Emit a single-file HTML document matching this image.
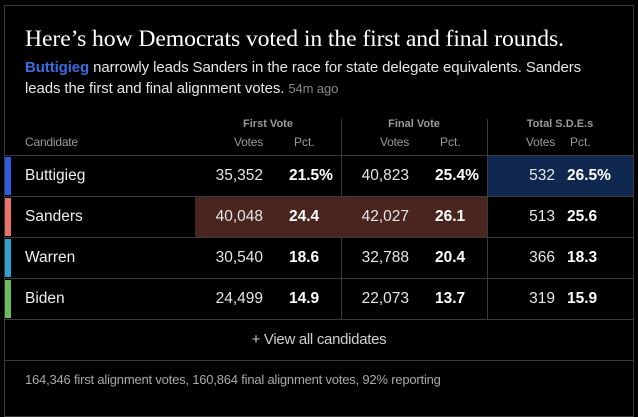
<!DOCTYPE html>
<html><head><meta charset="utf-8"><style>
body{margin:0;width:638px;height:406px;background:#000;overflow:hidden;font-family:"Liberation Sans",sans-serif;color:#e8e8e8;position:relative}
.box{position:absolute;left:4px;top:5px;width:628px;height:410px;border:1px solid #3a3a3a}
.abs{position:absolute;white-space:nowrap}
h1{position:absolute;left:25px;top:26px;margin:0;font:400 23.7px "Liberation Serif",serif;color:#fff;letter-spacing:-0.1px}
.sub{position:absolute;left:25px;top:57px;width:590px;font-size:15px;line-height:21px;color:#e6e6e6;letter-spacing:-0.1px}
.sub b{color:#3a6ee0}
.sub .ago{color:#8a8a8a;font-size:13px}
</style></head><body>
<div class="box"></div>
<h1>Here’s how Democrats voted in the first and final rounds.</h1>
<div class="sub"><b>Buttigieg</b> narrowly leads Sanders in the race for state delegate equivalents. Sanders<br>leads the first and final alignment votes. <span class="ago">54m ago</span></div>
<div id="tbl"></div>
<div class="abs" style="left:5px;top:319px;width:628px;height:41px;line-height:41px;text-align:center;font-size:15px;color:#cfcfcf;border-bottom:1px solid #3a3a3a;letter-spacing:-0.3px">+ View all candidates</div>
<div class="abs" style="left:25px;top:372px;font-size:13px;color:#a8a8a8;letter-spacing:-0.2px">164,346 first alignment votes, 160,864 final alignment votes, 92% reporting</div>
<script>
const candidates=["Buttigieg","Sanders","Warren","Biden"];
const firstVotes=["35,352","40,048","30,540","24,499"];
const firstPct=["21.5%","24.4","18.6","14.9"];
const finalVotes=["40,823","42,027","32,788","22,073"];
const finalPct=["25.4%","26.1","20.4","13.7"];
const sdeVotes=["532","513","366","319"];
const sdePct=["26.5%","25.6","18.3","15.9"];
const colors=["#2c5ce0","#ec716a","#2fa0cf","#6cbb5c"];
const t=document.getElementById('tbl');
function add(html,style){const d=document.createElement('div');d.className='abs';d.style.cssText=style;d.innerHTML=html;t.appendChild(d);return d;}
let e;
e=add('Candidate','left:25px;top:135px;font-size:12px;color:#9a9a9a;letter-spacing:-0.2px');


const groups=[["First Vote",195,341],["Final Vote",341,487],["Total S.D.E.s",487,633]];
groups.forEach((g,i)=>{
 e=add(g[0],`left:${g[1]}px;width:${g[2]-g[1]}px;text-align:center;top:118px;font-size:11px;font-weight:bold;color:#9a9a9a`);
 
 
});
const vr=[263,409,555],pl=[289,435,567];
vr.forEach((r,i)=>{
 e=add('Votes',`left:${r-60}px;width:60px;text-align:right;top:135px;font-size:12px;color:#9a9a9a;letter-spacing:-0.2px`);
 
 
 e=add('Pct.',`left:${pl[i]+(i==2?3:5)}px;top:135px;font-size:12px;color:#9a9a9a`);
 
 
});
[341,487].forEach(x=>{
 e=add('',`left:${x}px;top:119px;width:1px;height:200px;background:#3a3a3a`);
 
 
});
const rowH=41,top0=155;
candidates.forEach((c,i)=>{
 const y=top0+i*rowH;
 e=add('',`left:5px;top:${y}px;width:628px;height:1px;background:#3a3a3a`);
 
 
 if(i===1){
  e=add('',`left:195px;top:${y+1}px;width:292px;height:${rowH-1}px;background:#4a2520`);
  
  
 }
 if(i===0){
  e=add('',`left:488px;top:${y+1}px;width:145px;height:${rowH-1}px;background:#10284f`);
  
  
 }
 e=add('',`left:5px;top:${y+2}px;width:6px;height:${rowH-3}px;background:${colors[i]}`);
 
 
 const ty=y+12;
 e=add(c,`left:25px;top:${ty}px;font-size:15.5px;color:#eee`);
 
 
 const vals=[[firstVotes,firstPct],[finalVotes,finalPct],[sdeVotes,sdePct]];
 vals.forEach((v,j)=>{
  e=add(v[0][i],`left:${vr[j]-80}px;width:80px;text-align:right;top:${ty}px;font-size:15.5px;color:#e6e6e6`);
  
  
  e=add(v[1][i],`left:${pl[j]}px;top:${ty}px;font-size:15.5px;font-weight:bold;color:#fff`);
  
  
 });
});
e=add('',`left:5px;top:${top0+4*rowH}px;width:628px;height:1px;background:#3a3a3a`);


</script>
</body></html>
